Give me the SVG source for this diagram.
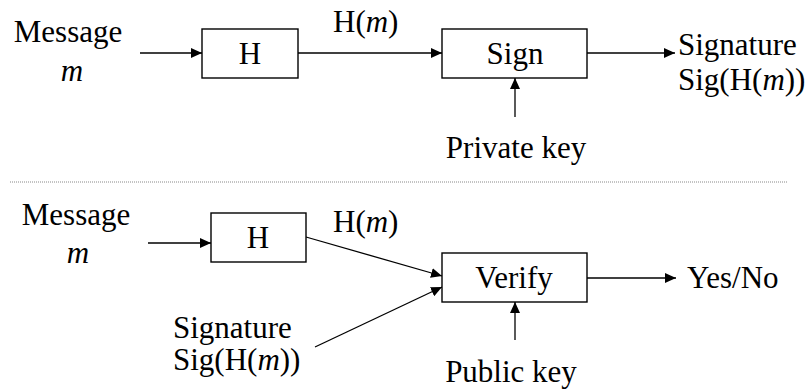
<svg xmlns="http://www.w3.org/2000/svg" width="810" height="391" viewBox="0 0 810 391">
<defs>
<style>
text{font-family:"Liberation Serif","Times New Roman",serif;font-size:31px;fill:#000}
.c{text-anchor:middle}
.i{font-style:italic}
.box{fill:#fff;stroke:#000;stroke-width:1.4}
.ln{stroke:#000;stroke-width:1.3;fill:none}
</style>
<marker id="ah" markerUnits="userSpaceOnUse" markerWidth="12" markerHeight="10" refX="11" refY="5" orient="auto">
<path d="M0,0 L11,5 L0,10 Z" fill="#000"/>
</marker>
</defs>
<rect width="810" height="391" fill="#fff"/>
<g id="connectors">
<line class="ln" x1="140" y1="53" x2="202" y2="53" marker-end="url(#ah)"/>
<line class="ln" x1="298" y1="53" x2="442" y2="53" marker-end="url(#ah)"/>
<line class="ln" x1="587" y1="53" x2="675" y2="53" marker-end="url(#ah)"/>
<line class="ln" x1="515" y1="117" x2="515" y2="78" marker-end="url(#ah)"/>
<line x1="10" y1="182" x2="787" y2="182" stroke="#888" stroke-width="1" stroke-dasharray="1,1"/>
<line class="ln" x1="148" y1="243" x2="211" y2="243" marker-end="url(#ah)"/>
<line class="ln" x1="306" y1="237" x2="442" y2="276" marker-end="url(#ah)"/>
<line class="ln" x1="315" y1="347" x2="442" y2="287" marker-end="url(#ah)"/>
<line class="ln" x1="587" y1="278" x2="676" y2="278" marker-end="url(#ah)"/>
<line class="ln" x1="515" y1="340" x2="515" y2="302" marker-end="url(#ah)"/>
</g>
<g id="msg1"><text class="c" x="68" y="42">Message</text><text class="c i" x="72" y="81">m</text></g>
<g id="hash1"><rect class="box" x="202" y="29" width="96" height="49"/><text class="c" x="250" y="64">H</text></g>
<g id="hm1"><text x="333" y="32">H(<tspan class="i">m</tspan>)</text></g>
<g id="sign"><rect class="box" x="442" y="29" width="145" height="49"/><text class="c" x="515" y="64">Sign</text></g>
<g id="sigout"><text x="678" y="55">Signature</text><text x="678" y="90">Sig(H(<tspan class="i">m</tspan>))</text></g>
<g id="privkey"><text class="c" x="516" y="158">Private key</text></g>
<g id="msg2"><text class="c" x="76" y="225">Message</text><text class="c i" x="78" y="263">m</text></g>
<g id="hash2"><rect class="box" x="211" y="213" width="95" height="49"/><text class="c" x="258" y="248">H</text></g>
<g id="hm2"><text x="333" y="232">H(<tspan class="i">m</tspan>)</text></g>
<g id="sigin"><text x="173" y="338">Signature</text><text x="173" y="370">Sig(H(<tspan class="i">m</tspan>))</text></g>
<g id="verify"><rect class="box" x="442" y="253" width="145" height="49"/><text class="c" x="514" y="288">Verify</text></g>
<g id="yesno"><text x="687" y="288">Yes/No</text></g>
<g id="pubkey"><text class="c" x="511" y="382">Public key</text></g>
</svg>
